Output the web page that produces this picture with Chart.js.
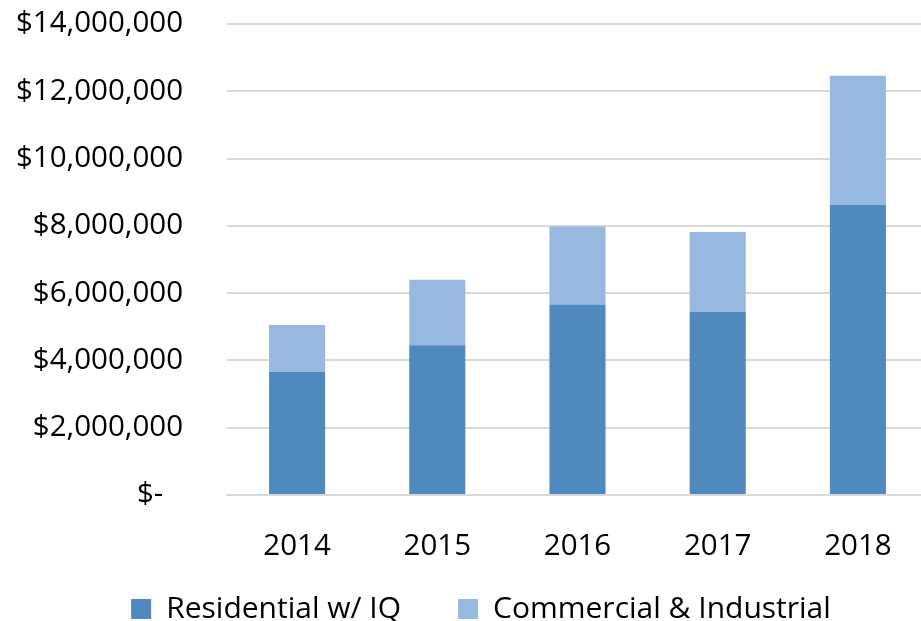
<!DOCTYPE html>
<html>
<head>
<meta charset="utf-8">
<script src="https://cdn.jsdelivr.net/npm/chart.js@4"></script>
<style>
  html, body { margin: 0; padding: 0; background: #fff; overflow: hidden; }
  /* un poco más grande que la ventana: el gráfico original está recortado */
  #wrap { width: 928px; height: 634px; position: relative; }
</style>
</head>
<body>
<div id="wrap"><canvas id="grafico"></canvas></div>
<script>
const anios = ["2014", "2015", "2016", "2017", "2018"];
const residencial = [3660000, 4450000, 5660000, 5450000, 8620000];
const comercial = [1390000, 1950000, 2320000, 2370000, 3840000];
const ticksY = [0, 2000000, 4000000, 6000000, 8000000, 10000000, 12000000, 14000000];

const familia = "'Open Sans', 'Noto Sans', sans-serif";
const fuenteEjes = { family: familia, size: 29.5 };
const fuenteLeyenda = { family: familia, size: 30 };
const padIzq = 34;

// las etiquetas de los ejes se salen de su caja (por la leyenda y el padding),
// así que se amplía la zona de recorte después del layout
const sinRecorte = {
  id: "sinRecorte",
  afterLayout: chart => {
    chart.scales.x.bottom = chart.height;
    chart.scales.y.left = 0;
  }
};

new Chart(document.getElementById("grafico"), {
  type: "bar",
  data: {
    labels: anios,
    datasets: [
      {
        label: "Residential w/ IQ",
        data: residencial,
        backgroundColor: "#4F89BD",
        borderWidth: 0,
        categoryPercentage: 0.4,
        barPercentage: 1
      },
      {
        label: "Commercial & Industrial",
        data: comercial,
        backgroundColor: "#97B8DF",
        borderWidth: 0,
        categoryPercentage: 0.4,
        barPercentage: 1
      }
    ]
  },
  options: {
    responsive: true,
    maintainAspectRatio: false,
    animation: false,
    layout: { padding: { top: 24, left: padIzq, right: 0, bottom: 0 } },
    plugins: {
      tooltip: { enabled: false },
      legend: {
        position: "bottom",
        labels: {
          color: "#000",
          font: fuenteLeyenda,
          boxWidth: 20,
          boxHeight: 20,
          padding: 57
        }
      }
    },
    scales: {
      x: {
        stacked: true,
        grid: { display: false, drawTicks: false },
        border: { color: "#D9D9D9", width: 2 },
        ticks: { color: "#000", font: fuenteEjes, padding: 34 },
        afterFit: s => { s.height = 42; }
      },
      y: {
        stacked: true,
        min: 0,
        max: 14000000,
        afterBuildTicks: s => { s.ticks = ticksY.map(v => ({ value: v })); },
        // marcas invisibles para separar las etiquetas de la rejilla
        grid: { color: "#D9D9D9", lineWidth: 2, drawTicks: true, tickLength: 44, tickColor: "rgba(0,0,0,0)" },
        border: { display: false },
        ticks: {
          color: "#000",
          font: fuenteEjes,
          padding: 0,
          callback: v => v === 0 ? "$-\u2002\u2009" : "$" + v.toLocaleString("en-US")
        },
        afterFit: s => { s.width = 227 - padIzq; }
      }
    }
  },
  plugins: [sinRecorte]
});
</script>
</body>
</html>
